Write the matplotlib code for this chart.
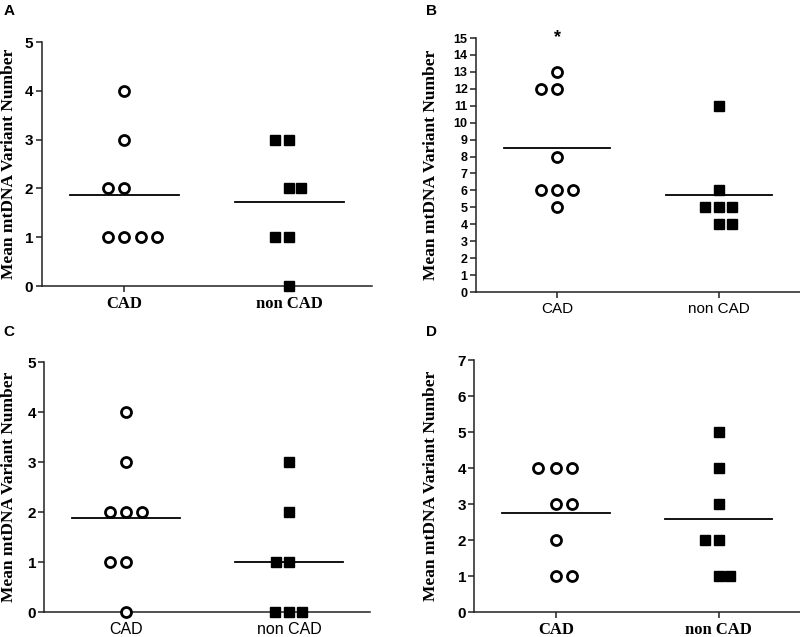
import numpy as np
import matplotlib
matplotlib.use("Agg")
import matplotlib.pyplot as plt

# --- data ---
groups = ["CAD", "non CAD"]

a_cad = [4, 3, 2, 2, 1, 1, 1, 1]
a_cad_dx = [0, 0, -0.10, 0, -0.10, 0, 0.10, 0.20]
a_non = [3, 3, 2, 2, 1, 1, 0]
a_non_dx = [-0.085, 0, 0, 0.07, -0.085, 0, 0]

b_cad = [13, 12, 12, 8, 6, 6, 6, 5]
b_cad_dx = [0, -0.10, 0, 0, -0.10, 0, 0.10, 0]
b_non = [11, 6, 5, 5, 5, 4, 4]
b_non_dx = [0, 0, -0.085, 0, 0.08, 0, 0.08]

c_cad = [4, 3, 2, 2, 2, 1, 1, 0]
c_cad_dx = [0, 0, -0.10, 0, 0.10, -0.10, 0, 0]
c_non = [3, 2, 1, 1, 0, 0, 0]
c_non_dx = [0, 0, -0.08, 0, -0.085, 0, 0.08]

d_cad = [4, 4, 4, 3, 3, 2, 1, 1]
d_cad_dx = [-0.11, 0, 0.10, 0, 0.10, 0, 0, 0.10]
d_non = [5, 4, 3, 2, 2, 1, 1]
d_non_dx = [0, 0, 0, -0.085, 0, 0, 0.07]

ylabel = "Mean mtDNA Variant Number"

SERIF = "Liberation Serif"
SANS = "Liberation Sans"

# letter, data, ylim top, tick size, xlabel style, axes rect (fig frac), ylabel x (axes frac)
panels = [
    ("A", (a_cad, a_cad_dx, a_non, a_non_dx), 5, 11, (SERIF, "bold", 12),
     [0.052, 0.551, 0.4125, 0.383], -0.074),
    ("B", (b_cad, b_cad_dx, b_non, b_non_dx), 15, 9, (SANS, "normal", 11),
     [0.595, 0.5416, 0.405, 0.3987], -0.115),
    ("C", (c_cad, c_cad_dx, c_non, c_non_dx), 5, 11, (SANS, "normal", 11.5),
     [0.0556, 0.0392, 0.4075, 0.3925], -0.083),
    ("D", (d_cad, d_cad_dx, d_non, d_non_dx), 7, 11, (SERIF, "bold", 12),
     [0.593, 0.0392, 0.407, 0.3956], -0.11),
]
letter_pos = {"A": (0.004, 0.993), "B": (0.532, 0.993),
              "C": (0.004, 0.49), "D": (0.532, 0.49)}

fig = plt.figure(figsize=(8.0, 6.37), dpi=100)

for letter, (cad, cad_dx, non, non_dx), ytop, tsize, xfont, rect, ylx in panels:
    ax = fig.add_axes(rect)
    # CAD: open circles
    ax.plot(1 + np.array(cad_dx), cad, "o", ms=7.2, mfc="white", mec="black",
            mew=2.0, clip_on=False, zorder=3)
    # non CAD: filled squares
    ax.plot(2 + np.array(non_dx), non, "s", ms=6.5, mfc="black", mec="black",
            clip_on=False, zorder=3)
    # mean lines
    for g, vals in ((1, cad), (2, non)):
        m = np.mean(vals)
        ax.plot([g - 0.33, g + 0.33], [m, m], color="black", lw=1.3, zorder=2)

    if letter == "B":
        ax.text(1, 15, "*", ha="center", va="center", fontsize=13,
                fontfamily=SANS, fontweight="bold")

    ax.set_xlim(0.5, 2.5)
    ax.set_ylim(0, ytop)
    ax.set_yticks(range(0, ytop + 1))
    ax.set_xticks([1, 2])
    ax.set_xticklabels(groups, fontfamily=xfont[0], fontweight=xfont[1],
                       fontsize=xfont[2])
    for lab in ax.get_yticklabels():
        lab.set_fontfamily(SANS)
        lab.set_fontweight("bold")
        lab.set_fontsize(tsize)

    for s in ("top", "right"):
        ax.spines[s].set_visible(False)
    for s in ("left", "bottom"):
        ax.spines[s].set_linewidth(1.1)
        ax.spines[s].set_color("#222222")
    ax.tick_params(axis="both", direction="out", length=4, width=1.1,
                   color="#222222", pad=2)
    ax.tick_params(axis="x", pad=3)

    ax.set_ylabel(ylabel, fontfamily=SERIF, fontweight="bold", fontsize=12.5)
    ax.yaxis.set_label_coords(ylx, 0.5)

    lx, ly = letter_pos[letter]
    fig.text(lx, ly, letter, ha="left", va="top", fontsize=11,
             fontfamily=SANS, fontweight="bold")

fig.savefig("out.png", dpi=100)
